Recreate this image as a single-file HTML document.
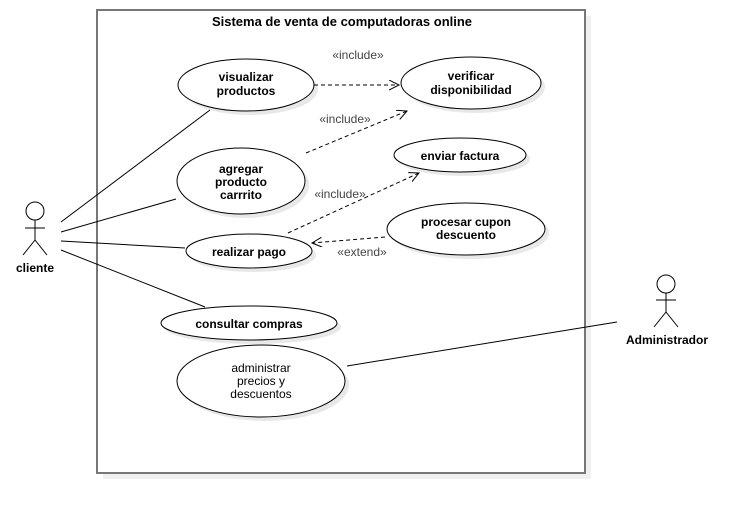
<!DOCTYPE html>
<html><head><meta charset="utf-8"><style>body{margin:0;background:#fff}svg{display:block}</style></head><body>
<svg width="755" height="514" viewBox="0 0 755 514" xmlns="http://www.w3.org/2000/svg" font-family="Liberation Sans, sans-serif">
<defs>
<marker id="a" markerWidth="12" markerHeight="12" refX="10" refY="5" orient="auto" markerUnits="userSpaceOnUse"><path d="M0,0 L10,5 L0,10" fill="none" stroke="#000" stroke-width="1"/></marker>
</defs>
<rect x="103" y="16" width="488" height="463" fill="#f0f0f0"/>
<rect x="97" y="10" width="488" height="463" fill="#fff" stroke="#777" stroke-width="2"/>
<text x="342" y="26" text-anchor="middle" font-size="13" font-weight="bold">Sistema de venta de computadoras online</text>
<g fill="#e8e8e8">
<ellipse cx="250" cy="89" rx="68" ry="26"/><ellipse cx="475" cy="87" rx="70" ry="26"/>
<ellipse cx="245" cy="185" rx="64" ry="33"/><ellipse cx="464" cy="159" rx="66" ry="17"/>
<ellipse cx="470" cy="233" rx="79" ry="26"/><ellipse cx="253" cy="255" rx="63" ry="17"/>
<ellipse cx="253" cy="327" rx="88" ry="17"/><ellipse cx="265" cy="385" rx="84" ry="36"/>
</g>
<g fill="#fff" stroke="#000" stroke-width="1">
<ellipse cx="246" cy="85" rx="68" ry="26"/><ellipse cx="471" cy="83" rx="70" ry="26"/>
<ellipse cx="241" cy="181" rx="64" ry="33"/><ellipse cx="460" cy="155" rx="66" ry="17"/>
<ellipse cx="466" cy="229" rx="79" ry="26"/><ellipse cx="249" cy="251" rx="63" ry="17"/>
<ellipse cx="249" cy="323" rx="88" ry="17"/><ellipse cx="261" cy="381" rx="84" ry="36"/>
</g>
<g font-size="12" font-weight="bold" text-anchor="middle">
<text x="246" y="81">visualizar</text><text x="246" y="95">productos</text>
<text x="471" y="80">verificar</text><text x="471" y="94">disponibilidad</text>
<text x="241" y="173">agregar</text><text x="241" y="186">producto</text><text x="241" y="199">carrrito</text>
<text x="460" y="160">enviar factura</text>
<text x="466" y="226">procesar cupon</text><text x="466" y="239">descuento</text>
<text x="249" y="256">realizar pago</text>
<text x="249" y="328">consultar compras</text>
<text x="261" y="372" font-weight="normal">administrar</text><text x="261" y="385" font-weight="normal">precios y</text><text x="261" y="398" font-weight="normal">descuentos</text>
<text x="35" y="272">cliente</text>
<text x="667" y="344">Administrador</text>
</g>
<g stroke="#000" stroke-width="1" fill="none">
<line x1="61" y1="222" x2="210" y2="110"/>
<line x1="61" y1="232" x2="176" y2="199"/>
<line x1="61" y1="241" x2="185" y2="248"/>
<line x1="61" y1="250" x2="205" y2="307"/>
<line x1="617" y1="322" x2="347" y2="366"/>
<circle cx="35" cy="211" r="9" fill="#fff"/><line x1="35" y1="220" x2="35" y2="240"/><line x1="25" y1="228" x2="45" y2="228"/><path d="M23,255 L35,240 L47,255"/>
<circle cx="666" cy="284" r="9" fill="#fff"/><line x1="666" y1="293" x2="666" y2="312"/><line x1="656" y1="300" x2="676" y2="300"/><path d="M654,327 L666,312 L678,327"/>
</g>
<g stroke="#000" stroke-width="1" fill="none" stroke-dasharray="4,3">
<line x1="314" y1="85" x2="399" y2="85" marker-end="url(#a)"/>
<line x1="306" y1="153" x2="407" y2="111" marker-end="url(#a)"/>
<line x1="288" y1="233" x2="419" y2="173" marker-end="url(#a)"/>
<line x1="385" y1="237" x2="312" y2="243" marker-end="url(#a)"/>
</g>
<g font-size="12" fill="#444" text-anchor="middle">
<text x="358" y="59">«include»</text>
<text x="345" y="123">«include»</text>
<text x="340" y="198">«include»</text>
<text x="362" y="256">«extend»</text>
</g>
</svg>
</body></html>
